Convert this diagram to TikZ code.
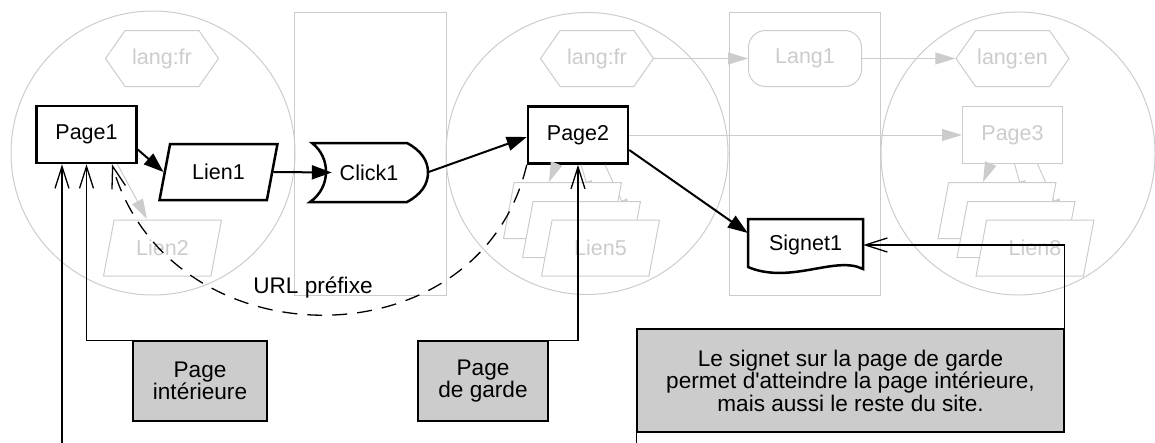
\documentclass[tikz,border=0pt]{standalone}
\usepackage{fontspec}
\setmainfont{Liberation Sans}[Ligatures=TeXOff]
\usetikzlibrary{shapes.geometric,shapes.symbols,arrows.meta,calc}
\definecolor{lg}{HTML}{CCCCCC}
\begin{document}
\begin{tikzpicture}[x=1pt,y=-1pt,
  font=\fontsize{21.5}{22}\selectfont,
  bigfont/.style={font=\fontsize{22.6}{22.5}\selectfont},
  clus/.style={draw=lg, line width=1pt},
  bnode/.style={draw=black, line width=2.5pt, fill=white, text=black},
  gnode/.style={draw=lg, line width=1pt, fill=white, text=lg},
  pagebox/.style={rectangle, minimum width=100pt, minimum height=57pt, inner sep=0pt},
  para/.style={trapezium, trapezium left angle=70, trapezium right angle=110,
    trapezium stretches=true, minimum width=118pt, minimum height=56pt, inner sep=0pt},
  hexa/.style={signal, signal to=east and west, signal pointer angle=110,
    minimum width=113pt, minimum height=56pt, inner sep=0pt},
  notebox/.style={draw=black, line width=1.3pt, fill=lg, align=center, inner sep=0pt, bigfont},
  barrow/.style={line width=2pt, -{Triangle[length=20pt,width=14pt]}},
  garrow/.style={draw=lg, line width=1pt, -{Triangle[length=20pt,width=12pt]}},
  conn/.style={line width=1.3pt, -{Straight Barb[length=22pt,width=14pt]}},
  dashconn/.style={line width=1.3pt, dash pattern=on 15pt off 10pt, -{Straight Barb[length=22pt,width=14pt]}}
]
\useasboundingbox (0,0) rectangle (1155,442);
\clip (0,0) rectangle (1155,442);

% clusters
\draw[clus] (153,153) circle[radius=142];
\draw[clus] (294,12) rectangle (446,295);
\draw[clus] (587,153.5) circle[radius=141];
\draw[clus] (729,12) rectangle (880,295);
\draw[clus] (1018,153.5) ellipse[x radius=137, y radius=141.5];

% gray nodes (upper)
\node[hexa, gnode] (h1) at (162,58.5) {lang:fr};
\node[hexa, gnode] (h2) at (597,58.5) {lang:fr};
\node[gnode, rectangle, rounded corners=17pt, minimum width=113pt, minimum height=56pt, inner sep=0pt] (lang1) at (805,58.5) {Lang1};
\node[hexa, gnode] (h3) at (1012.5,58.5) {lang:en};
\node[pagebox, gnode] (p3) at (1012.5,135) {Page3};

% main black nodes
\node[pagebox, bnode] (p1) at (86.5,134.5) {Page1};
\node[pagebox, bnode] (p2) at (578,135) {Page2};

% gray edges
\draw[garrow] (h2.east) -- (lang1.west);
\draw[garrow] (lang1.east) -- (h3.west);
\draw[garrow] (p2.east) -- (p3.west);
\draw[garrow] ($(p1.south)+(31,0)$) -- (147,219) coordinate (l2tip);
\draw[garrow] ($(p2.south)+(-22,0)$) -- (549,182) coordinate (l3tip);
\draw[garrow] ($(p2.south)+(3,0)$) -- (592,201) coordinate (l4tip);
\draw[garrow] ($(p2.south)+(27,0)$) -- (630,219) coordinate (l5tip);
\draw[garrow] ($(p3.south)+(-22,0)$) -- (983,182) coordinate (l6tip);
\draw[garrow] ($(p3.south)+(2,0)$) -- (1025,201) coordinate (l7tip);
\draw[garrow] ($(p3.south)+(25,0)$) -- (1062,219) coordinate (l8tip);

% gray link nodes
\node[para, gnode] (l2) at (162.5,248) {Lien2};
\node[para, gnode] (l3) at (562.5,210.5) {Lien3};
\node[para, gnode] (l4) at (581.5,229.5) {Lien4};
\node[para, gnode] (l5) at (600.5,248) {Lien5};
\node[para, gnode] (l6) at (997,210.5) {Lien6};
\node[para, gnode] (l7) at (1016,229.5) {Lien7};
\node[para, gnode] (l8) at (1035,248) {Lien8};

% black nodes
\node[para, bnode] (l1) at (218.5,172) {Lien1};
\node[minimum width=116pt, minimum height=59pt, inner sep=0pt] (c1) at (369,172.5) {Click1};
\begin{scope}[shift={(c1.center)}]
\draw[line width=2.5pt, line join=miter]
  (-57,-29.5) -- (38,-29.5) .. controls (52,-22) and (59,-12) .. (59,0)
  .. controls (59,12) and (52,22) .. (38,29.5) -- (-59,29.5)
  .. controls (-38,15) and (-38,-15) .. cycle;
\end{scope}
\node[minimum width=115pt, minimum height=51pt, inner sep=0pt] (s1) at (805.5,245) {Signet1};
\begin{scope}[shift={(s1.center)}]
\draw[line width=2.5pt]
  (-57.5,-26) -- (57.5,-26) -- (57.5,24) .. controls (30,10) and (-15,40) .. (-57.5,22) -- cycle;
\end{scope}

% black edges
\draw[barrow] ($(p1.east)+(0,15)$) -- (l1.west);
\draw[barrow] (l1.east) -- ($(c1.west)+(21,0)$);
\draw[barrow] (c1.east) -- ($(p2.west)+(0,2)$);
\draw[barrow] ($(p2.east)+(0,15)$) -- ($(s1.west)+(0,-12)$);

% notes
\node[notebox, minimum width=134pt, minimum height=80pt] (pi) at (200,381) {Page\\intérieure};
\node[notebox, minimum width=130pt, minimum height=80pt] (pg) at (483,381) {Page\\de garde};
\node[notebox, minimum width=427pt, minimum height=103pt] (note) at (850.5,380.5)
  {Le signet sur la page de garde\\permet d'atteindre la page intérieure,\\mais aussi le reste du site.};

% dashed edge
\draw[dashconn] (p2.south west) .. controls (480,365) and (170,365) .. ($(p1.south)+(25.5,0)$);
\node[bigfont] (url) at (313,288) {URL préfixe};

% note connectors
\draw[conn] (pi.north west) -| (p1.south);
\draw[conn] (pg.north east) -| (p2.south);
\draw[conn] (note.north east) |- (s1.east);
\draw[conn] (note.south west) -- ++(0,30) -| ($(p1.south)+(-24.5,0)$);
\end{tikzpicture}
\end{document}
